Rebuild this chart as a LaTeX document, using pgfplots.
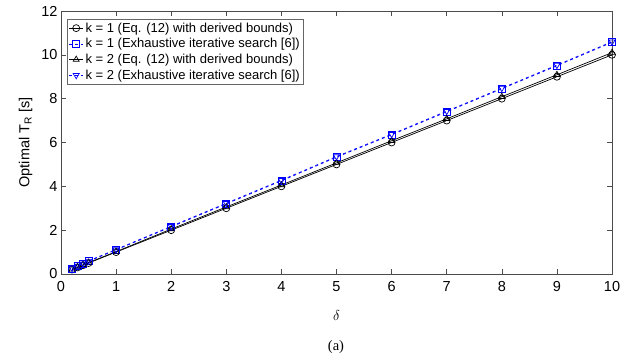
\documentclass[border=0pt]{standalone}
\usepackage{pgfplots}
\pgfplotsset{compat=1.18}
\usepackage{fontspec}
\setmainfont{Liberation Sans}
\newfontfamily\capfont{Liberation Serif}
\begin{document}
\begin{tikzpicture}[x=1pt,y=1pt]
\begin{axis}[
  at={(61pt,88pt)}, anchor=south west,
  width=551pt, height=263pt, scale only axis,
  xmin=0, xmax=10, ymin=0, ymax=12,
  xtick={0,1,...,10}, ytick={0,2,...,12},
  tick align=inside, tick pos=both,
  major tick length=5pt,
  axis line style={draw=black!70, line width=0.6pt},
  tick style={black!70, line width=0.6pt},
  /pgf/number format/assume math mode=true,
  ticklabel style={font=\fontsize{14.5}{16}\selectfont},
  xticklabel style={yshift=-4pt},
  xlabel={$\delta$},
  ylabel={Optimal T$_\mathrm{R}$ [s]},
  label style={font=\fontsize{14.5}{16}\selectfont},
  xlabel style={yshift=-12pt},
  ylabel style={yshift=2pt},
  legend style={at={(0.011,0.97)}, anchor=north west, draw=black!60, line width=0.6pt,
    font=\fontsize{13}{14}\selectfont, inner sep=1.5pt, row sep=0.8pt,
    legend cell align=left},
  legend image code/.code={\draw[mark repeat=2,mark phase=2,#1] plot coordinates {(0pt,0pt) (7pt,0pt) (14pt,0pt)};},
  mark size=3.5pt,
]
\addplot[black, line width=0.7pt, mark=o] coordinates {
(0.2,0.2) (0.3,0.3) (0.4,0.4) (0.5,0.5) (1,1) (2,2) (3,3) (4,4) (5,5) (6,6) (7,7) (8,8) (9,9) (10,10)};
\addlegendentry{k = 1 (Eq. (12) with derived bounds)}
\addplot[blue, dashed, line width=0.7pt, mark=square, mark options={solid}] coordinates {
(0.2,0.25) (0.3,0.35) (0.4,0.45) (0.5,0.58) (1,1.1) (2,2.15) (3,3.2) (4,4.25) (5,5.33) (6,6.35) (7,7.4) (8,8.45) (9,9.5) (10,10.57)};
\addlegendentry{k = 1 (Exhaustive iterative search [6])}
\addplot[black, line width=0.7pt, mark=triangle, mark options={solid}] coordinates {
(0.2,0.22) (0.3,0.32) (0.4,0.42) (0.5,0.52) (1,1.02) (2,2.05) (3,3.06) (4,4.06) (5,5.07) (6,6.08) (7,7.08) (8,8.09) (9,9.09) (10,10.1)};
\addlegendentry{k = 2 (Eq. (12) with derived bounds)}
\addplot[blue, dashed, line width=0.7pt, mark=triangle, mark options={solid, rotate=180}] coordinates {
(0.2,0.27) (0.3,0.37) (0.4,0.47) (0.5,0.6) (1,1.12) (2,2.18) (3,3.23) (4,4.28) (5,5.36) (6,6.38) (7,7.43) (8,8.48) (9,9.53) (10,10.6)};
\addlegendentry{k = 2 (Exhaustive iterative search [6])}
\end{axis}
\node[font=\fontsize{14.5}{16}\capfont, anchor=base] at (336pt,12pt) {(a)};
\path (0,0) rectangle (639pt,362pt);
\end{tikzpicture}
\end{document}
